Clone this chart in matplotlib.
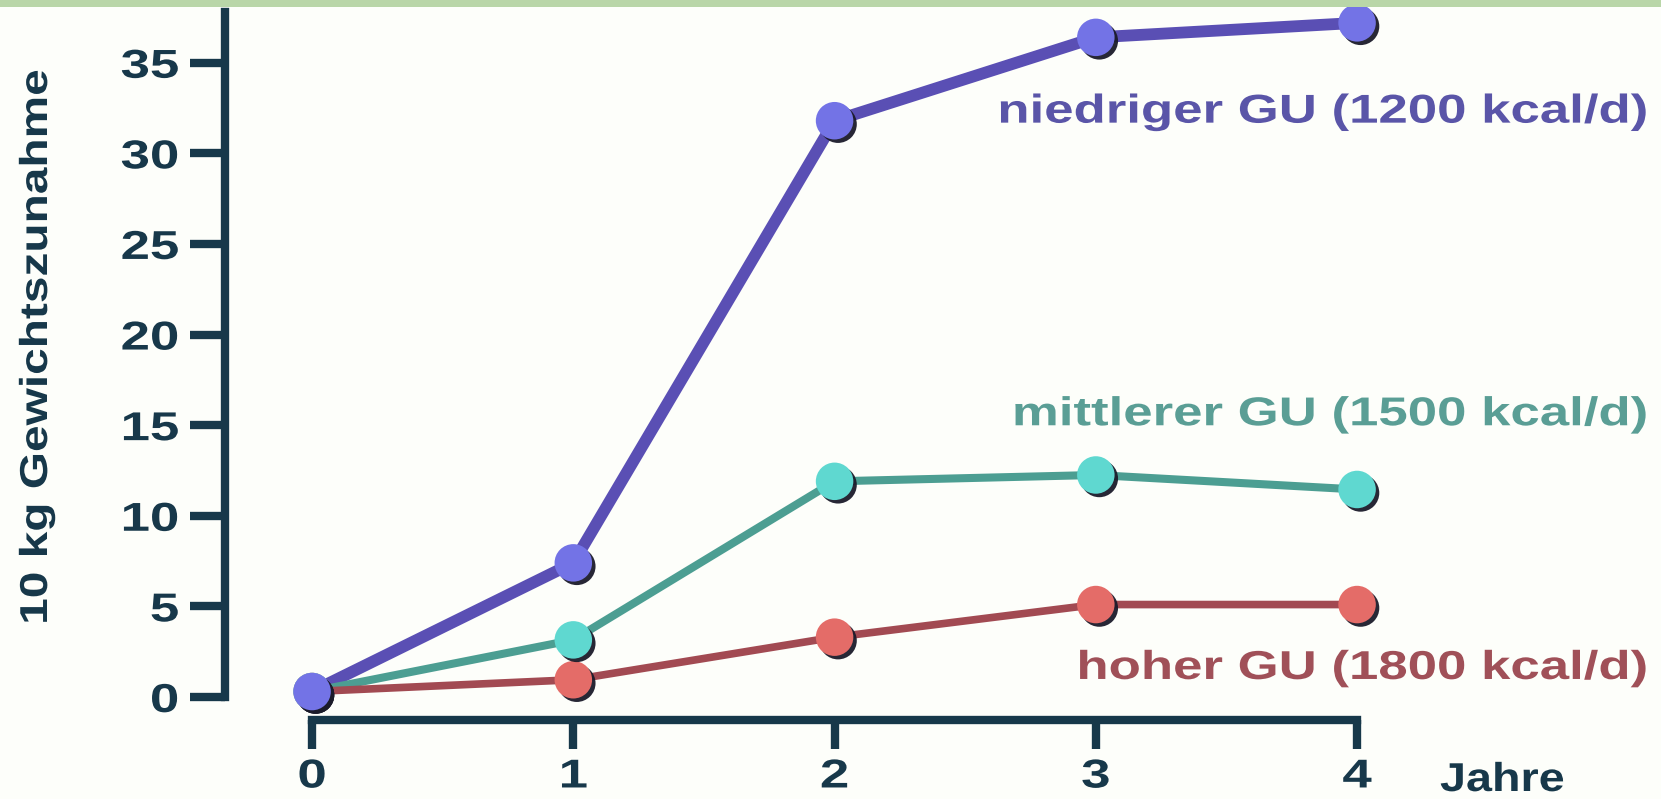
import matplotlib
matplotlib.use("Agg")
import matplotlib.pyplot as plt
import matplotlib.patheffects as pe
from matplotlib.patches import Rectangle
from matplotlib.transforms import Affine2D

# Jahre seit Beginn
years = [0, 1, 2, 3, 4]

# Gewichtszunahme (10 kg) je Grundumsatz-Gruppe
niedrig = [0.3, 7.4, 31.8, 36.4, 37.2]
mittel = [0.3, 3.15, 11.9, 12.25, 11.45]
hoch = [0.3, 0.95, 3.3, 5.1, 5.1]

labels = ["niedriger GU (1200 kcal/d)",
          "mittlerer GU (1500 kcal/d)",
          "hoher GU (1800 kcal/d)"]
label_y = [32.3, 15.6, 1.6]

yticks = [0, 5, 10, 15, 20, 25, 30, 35]
xticks = [0, 1, 2, 3, 4]

DARK = "#17384a"
FONT = "Liberation Sans"
WIDE = 1.31   # horizontale Dehnung der Beschriftungen


class Stretch(pe.AbstractPathEffect):
    """Dehnt einen Text entlang seiner Schreibrichtung um seinen Ankerpunkt."""

    def __init__(self, text, factor):
        super().__init__()
        self.text = text
        self.factor = factor

    def draw_path(self, renderer, gc, tpath, affine, rgbFace=None):
        x0, y0 = self.text.get_transform().transform(
            self.text.get_unitless_position())
        ang = self.text.get_rotation()
        st = (Affine2D().translate(-x0, -y0).rotate_deg(-ang)
              .scale(self.factor, 1).rotate_deg(ang).translate(x0, y0))
        renderer.draw_path(gc, tpath, affine + st, rgbFace)


def widen(text, factor=WIDE):
    text.set_path_effects([Stretch(text, factor)])
    return text


fig = plt.figure(figsize=(16.61, 7.99), dpi=100, facecolor="#fdfefa")
ax = fig.add_axes([0.1355, 0.0989, 0.8278, 0.8861])
ax.set_facecolor("#fdfefa")

# dünner grüner Streifen am oberen Rand
fig.patches.append(Rectangle((0, 0.991), 1, 0.009, transform=fig.transFigure,
                             facecolor="#b9d6a8", edgecolor="none", zorder=0))

series = [
    (niedrig, "#5a4fb4", "#7373e6", "#5a55a8", 8.5),
    (mittel, "#4c9e92", "#5fd8d0", "#5a9e95", 5.8),
    (hoch, "#a24a52", "#e46c68", "#a05058", 5.5),
]

shadow = [pe.SimplePatchShadow(offset=(2.5, -2.5), shadow_rgbFace="#1b1b2a", alpha=0.95),
          pe.Normal()]

for vals, lc, mc, tc, lw in series:
    ax.plot(years, vals, color=lc, lw=lw, solid_capstyle="round", zorder=2,
            clip_on=False)
for vals, lc, mc, tc, lw in series[::-1]:
    ax.plot(years, vals, ls="none", marker="o", ms=27, mfc=mc, mec="none",
            zorder=3, clip_on=False, path_effects=shadow)

for (vals, lc, mc, tc, lw), lab, ly in zip(series, labels, label_y):
    t = ax.text(5.11, ly, lab, ha="right", va="center", color=tc, fontsize=29,
                fontweight="bold", family=FONT, clip_on=False)
    widen(t)

ax.set_xlim(-0.333, 4.93)
ax.set_ylim(-1.27, 37.8)

for s in ["top", "right"]:
    ax.spines[s].set_visible(False)
ax.spines["left"].set_bounds(0, 37.8)
ax.spines["bottom"].set_bounds(0, 4)
for s in ["left", "bottom"]:
    ax.spines[s].set_color(DARK)
    ax.spines[s].set_linewidth(6)
    ax.spines[s].set_capstyle("projecting")

ax.set_yticks(yticks)
ax.set_xticks(xticks)
ax.tick_params(axis="y", length=25, width=6, color=DARK, pad=8,
               labelsize=29, labelcolor=DARK)
ax.tick_params(axis="x", length=21, width=6, color=DARK, pad=6,
               labelsize=29, labelcolor=DARK)
for t in ax.get_xticklabels() + ax.get_yticklabels():
    t.set_fontweight("bold")
    t.set_family(FONT)
    widen(t)

ylab = fig.text(37 / 1661, 1 - 347 / 799, "10 kg Gewichtszunahme", rotation=90,
                ha="center", va="center", fontsize=28, fontweight="bold",
                color=DARK, family=FONT)
widen(ylab, 1.23)
xlab = fig.text(1440 / 1661, 1 - 780 / 799, "Jahre", ha="left", va="center",
                fontsize=29, fontweight="bold", color=DARK, family=FONT)
widen(xlab, 1.16)

fig.savefig("out.png", dpi=100, facecolor=fig.get_facecolor())
